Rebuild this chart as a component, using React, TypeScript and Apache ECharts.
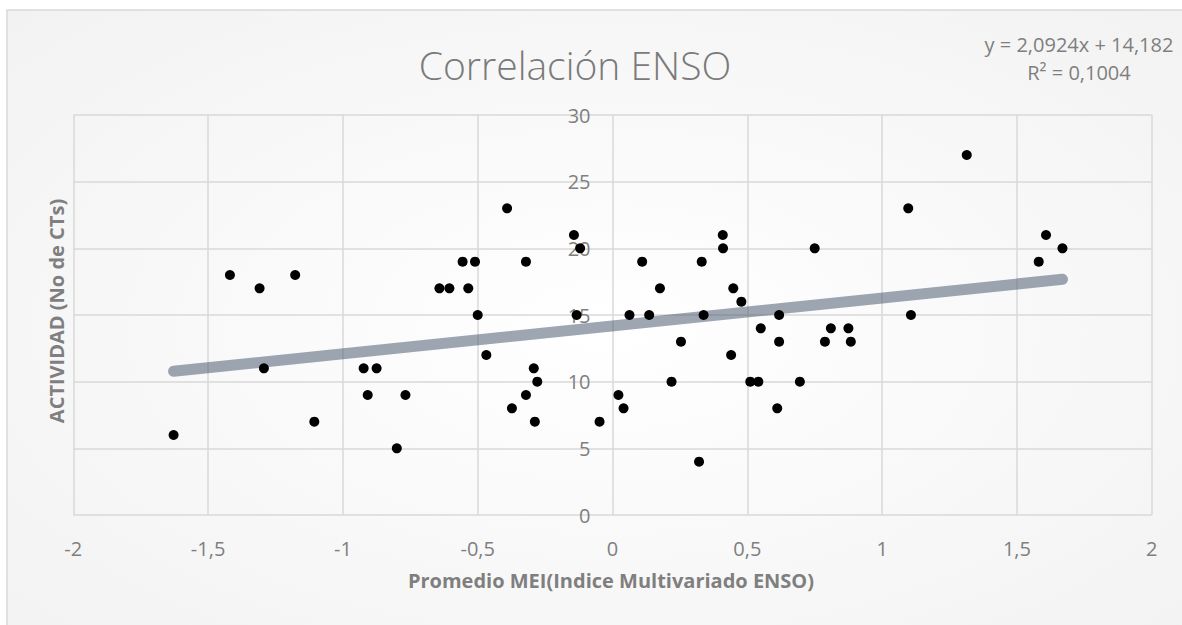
import React, { useEffect, useRef } from "react";
import * as echarts from "echarts";

const titleText = "Correlación ENSO";
const xAxisTitle = "Promedio MEI(Indice Multivariado ENSO)";
const yAxisTitle = "ACTIVIDAD (No de CTs)";
const equationText = "y = 2,0924x + 14,182";
const r2Text = "R² = 0,1004";

const trendSlope = 2.0924;
const trendIntercept = 14.182;

const meiValues = [
  -1.628, -1.419, -1.309, -1.293, -1.177, -1.106, -0.923, -0.908, -0.875, -0.8,
  -0.768, -0.642, -0.605, -0.556, -0.535, -0.51, -0.5, -0.468, -0.391, -0.373,
  -0.321, -0.321, -0.292, -0.288, -0.279, -0.143, -0.133, -0.12, -0.048, 0.022,
  0.041, 0.063, 0.11, 0.136, 0.176, 0.219, 0.254, 0.321, 0.331, 0.338,
  0.409, 0.41, 0.44, 0.448, 0.478, 0.511, 0.541, 0.55, 0.611, 0.618,
  0.618, 0.695, 0.75, 0.788, 0.81, 0.875, 0.884, 1.097, 1.107, 1.314,
  1.581, 1.608, 1.669,
];
const activityValues = [
  6, 18, 17, 11, 18, 7, 11, 9, 11, 5,
  9, 17, 17, 19, 17, 19, 15, 12, 23, 8,
  19, 9, 11, 7, 10, 21, 15, 20, 7, 9,
  8, 15, 19, 15, 17, 10, 13, 4, 19, 15,
  21, 20, 12, 17, 16, 10, 10, 14, 8, 15,
  13, 10, 20, 13, 14, 14, 13, 23, 15, 27,
  19, 21, 20,
];

const xMin = -2;
const xMax = 2;
const xInterval = 0.5;
const yMin = 0;
const yMax = 30;
const yInterval = 5;
const yAxisCrossesAt = 0;

const FONT = "'Open Sans', 'Noto Sans', sans-serif";
const GREY = "#7f7f7f";
const GRID_LEFT = 73.3;

const fmt = (v: number) => String(v).replace(".", ",");

export default function App() {
  const ref = useRef<HTMLDivElement>(null);
  useEffect(() => {
    document.body.style.margin = "0";
    document.body.style.background = "#ffffff";
    if (!ref.current) return;
    const chart = echarts.init(ref.current, null, { renderer: "svg" });
    const points = meiValues.map((x, i) => [x, activityValues[i]]);
    const tMin = Math.min(...meiValues);
    const tMax = Math.max(...meiValues);
    const trend = [
      [tMin, trendSlope * tMin + trendIntercept],
      [tMax, trendSlope * tMax + trendIntercept],
    ];
    chart.setOption({
      animation: false,
      textStyle: { fontFamily: FONT },
      graphic: [
        {
          type: "rect",
          z: -10,
          silent: true,
          shape: { x: 7, y: 10, width: 1200, height: 640 },
          style: {
            fill: new echarts.graphic.RadialGradient(0.5, 0.5, 0.75, [
              { offset: 0, color: "#ffffff" },
              { offset: 1, color: "#f1f1f1" },
            ]),
            stroke: "#d9d9d9",
            lineWidth: 1.5,
          },
        },
        {
          type: "text",
          x: 575,
          y: 64,
          style: {
            text: titleText,
            font: `300 39px ${FONT}`,
            fill: "#7a7a7a",
            align: "center",
            verticalAlign: "middle",
          },
        },
        {
          type: "text",
          x: 1079,
          y: 44,
          style: {
            text: equationText,
            font: `20px ${FONT}`,
            fill: GREY,
            align: "center",
            verticalAlign: "middle",
          },
        },
        {
          type: "text",
          x: 1079,
          y: 72,
          style: {
            text: r2Text,
            font: `20px ${FONT}`,
            fill: GREY,
            align: "center",
            verticalAlign: "middle",
          },
        },
        {
          type: "text",
          x: 611,
          y: 580,
          style: {
            text: xAxisTitle,
            font: `bold 20px ${FONT}`,
            fill: GREY,
            align: "center",
            verticalAlign: "middle",
          },
        },
        {
          type: "text",
          x: 56,
          y: 311,
          rotation: Math.PI / 2,
          style: {
            text: yAxisTitle,
            font: `bold 20px ${FONT}`,
            fill: GREY,
            align: "center",
            verticalAlign: "middle",
          },
        },
      ],
      grid: { left: GRID_LEFT, right: 30.3, top: 115, bottom: 110, containLabel: false },
      xAxis: {
        type: "value",
        min: xMin,
        max: xMax,
        interval: xInterval,
        axisLine: { show: false, onZero: false },
        axisTick: { show: false },
        axisLabel: {
          margin: 23,
          fontSize: 20,
          color: GREY,
          fontFamily: FONT,
          formatter: fmt,
        },
        splitLine: { show: true, lineStyle: { color: "#d9d9d9", width: 1.5 } },
      },
      yAxis: {
        type: "value",
        position: "left",
        min: yMin,
        max: yMax,
        interval: yInterval,
        axisLine: { show: false, onZero: false },
        axisTick: { show: false },
        axisLabel: {
          margin: 22,
          fontSize: 20,
          color: GREY,
          fontFamily: FONT,
          formatter: fmt,
        },
        splitLine: { show: true, lineStyle: { color: "#d9d9d9", width: 1.5 } },
      },
      series: [
        {
          type: "line",
          data: trend,
          symbol: "none",
          z: 2,
          lineStyle: { width: 11, color: "rgba(68,84,106,0.52)", cap: "round" },
          silent: true,
        },
        {
          type: "scatter",
          data: points,
          symbolSize: 10,
          z: 3,
          itemStyle: { color: "#000000", opacity: 1 },
        },
      ],
    });
    const zeroPx = chart.convertToPixel({ xAxisIndex: 0 }, yAxisCrossesAt) as number;
    if (typeof zeroPx === "number" && isFinite(zeroPx)) {
      chart.setOption({ yAxis: { offset: -(zeroPx - GRID_LEFT) } });
    }
    return () => chart.dispose();
  }, []);
  return <div ref={ref} style={{ width: 1182, height: 625 }} />;
}
